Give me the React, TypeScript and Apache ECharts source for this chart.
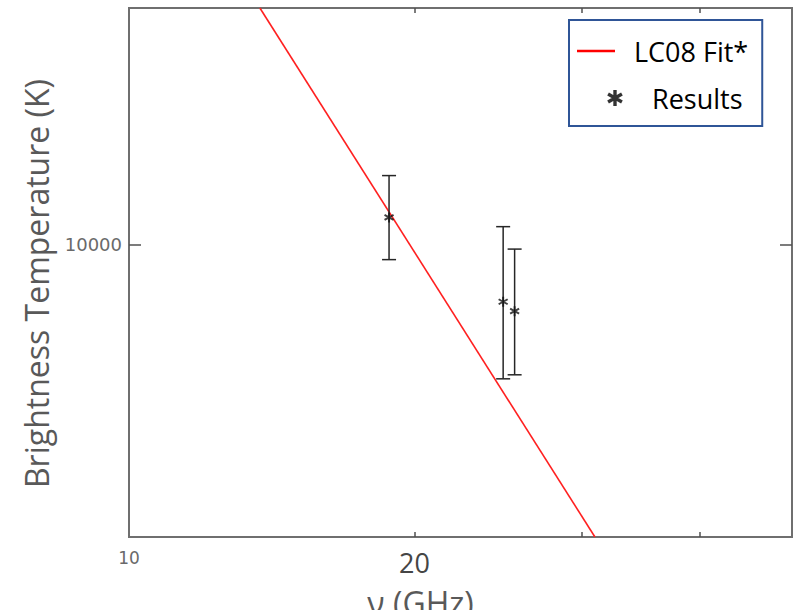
import React, { useEffect, useRef } from 'react';
import * as echarts from 'echarts';

// ---- data ----
const freqGHz = [18.8, 24.8, 25.5];
const tempK = [10840, 8470, 8240];
const tempLowK = [9580, 6760, 6840];
const tempHighK = [12250, 10550, 9880];
const fitFreqGHz = [13.74, 30.99];
const fitTempK = [20000, 4256];
const xTickValues = [20, 30, 40];
const xLabelValues = [10, 20];
const yLabelValues = [10000];
const xRange = [10, 50];
const yRange = [4256, 20000];
const seriesNames = ['LC08 Fit*', 'Results'];

function asterisk(cx: number, cy: number, r: number, w: number): string {
  let d = '';
  [90, 30, -30].forEach((deg) => {
    const a = (deg * Math.PI) / 180;
    const dx = Math.cos(a), dy = -Math.sin(a);
    const nx = -dy, ny = dx;
    const pts = [
      [cx + r * dx + w * nx, cy + r * dy + w * ny],
      [cx + r * dx - w * nx, cy + r * dy - w * ny],
      [cx - r * dx - w * nx, cy - r * dy - w * ny],
      [cx - r * dx + w * nx, cy - r * dy + w * ny],
    ];
    d += 'M' + pts.map((p) => p[0].toFixed(2) + ',' + p[1].toFixed(2)).join('L') + 'Z';
  });
  return d;
}

const POINT_SYMBOL = 'path://' + asterisk(5, 5, 5, 0.95);
const LEGEND_LINE_ICON = 'path://M0,0M47,18M0,7.8L38,7.8L38,10.2L0,10.2Z';
const LEGEND_STAR_ICON = 'path://M0,0M47,18' + asterisk(38, 9, 8, 1.7);

export default function App() {
  const ref = useRef<HTMLDivElement>(null);
  useEffect(() => {
    if (!ref.current) return;
    const chart = echarts.init(ref.current, undefined, { renderer: 'svg' });
    const errData = freqGHz.map((f, i) => [f, tempLowK[i], tempHighK[i]]);
    const ptData = freqGHz.map((f, i) => [f, tempK[i]]);
    const fitData = fitFreqGHz.map((f, i) => [f, fitTempK[i]]);
    const tickLine = { color: '#505050', width: 1.5 };
    chart.setOption({
      animation: false,
      backgroundColor: '#ffffff',
      grid: {
        left: 129, right: 1, top: 8, bottom: 73,
        containLabel: false, outerBoundsMode: 'none',
        show: true, borderColor: '#6f6f6f', borderWidth: 2, backgroundColor: 'transparent',
      },
      legend: {
        orient: 'vertical', left: 569, top: 20, align: 'left',
        padding: [16, 14, 13, 8], itemGap: 17, itemWidth: 47, itemHeight: 18,
        borderColor: '#2F5597', borderWidth: 2, backgroundColor: '#ffffff',
        selectedMode: false,
        itemStyle: { borderWidth: 0 },
        textStyle: { fontFamily: 'Open Sans', fontSize: 27, color: '#000000', lineHeight: 30 },
        data: [
          { name: seriesNames[0], icon: LEGEND_LINE_ICON, itemStyle: { color: '#ff0000', borderWidth: 0 }, textStyle: { padding: [0, 0, 0, 5] } },
          { name: seriesNames[1], icon: LEGEND_STAR_ICON, itemStyle: { color: '#000000', borderWidth: 0 }, textStyle: { padding: [0, 0, 0, 23] } },
        ],
      },
      xAxis: [
        {
          type: 'log', logBase: 10, min: xRange[0], max: xRange[1], position: 'bottom',
          axisLine: { show: false }, splitLine: { show: false },
          axisTick: { show: true, inside: true, length: 5, customValues: xTickValues, lineStyle: tickLine },
          axisLabel: {
            show: true, customValues: xLabelValues, margin: 12,
            formatter: (v: number) => (v < 15 ? '{s|' + Math.round(v) + '}' : '{b|' + Math.round(v) + '}'),
            rich: {
              s: { fontFamily: 'DejaVu Sans', fontSize: 17, color: '#6a6a6a' },
              b: { fontFamily: 'Open Sans', fontSize: 27, color: '#454545' },
            },
          },
          name: 'ν (GHz)', nameLocation: 'middle', nameGap: 49,
          nameTextStyle: { fontFamily: 'Open Sans', fontSize: 32, color: '#595959', padding: [0, 80, 0, 0] },
        },
        {
          type: 'log', logBase: 10, min: xRange[0], max: xRange[1], position: 'top',
          axisLine: { show: false }, splitLine: { show: false }, axisLabel: { show: false },
          axisTick: { show: true, inside: true, length: 5, customValues: xTickValues, lineStyle: tickLine },
        },
      ],
      yAxis: [
        {
          type: 'log', logBase: 10, min: yRange[0], max: yRange[1], position: 'left',
          axisLine: { show: false }, splitLine: { show: false },
          axisTick: { show: true, inside: true, length: 12, customValues: yLabelValues, lineStyle: tickLine },
          axisLabel: {
            show: true, customValues: yLabelValues, margin: 7,
            formatter: (v: number) => (Math.abs(v - 10000) < 1 ? '10000' : ''),
            fontFamily: 'DejaVu Sans', fontSize: 18, color: '#6a6a6a',
          },
          name: 'Brightness Temperature (K)', nameLocation: 'middle', nameGap: 77,
          nameTextStyle: { fontFamily: 'Open Sans', fontSize: 32, color: '#595959', padding: [0, 22, 0, 0] },
        },
        {
          type: 'log', logBase: 10, min: yRange[0], max: yRange[1], position: 'right',
          axisLine: { show: false }, splitLine: { show: false }, axisLabel: { show: false },
          axisTick: { show: true, inside: true, length: 12, customValues: yLabelValues, lineStyle: tickLine },
        },
      ],
      series: [
        {
          name: seriesNames[0], type: 'line', data: fitData, symbol: 'none', clip: true,
          color: '#ff0000',
          lineStyle: { color: '#ff2020', width: 1.6 }, z: 2,
        },
        {
          name: seriesNames[1] + ' bars', type: 'custom', data: errData, z: 3,
          encode: { x: 0, y: [1, 2] },
          renderItem: (params: any, api: any) => {
            const x = api.value(0);
            const lo = api.coord([x, api.value(1)]);
            const hi = api.coord([x, api.value(2)]);
            const h = 7;
            const st = { stroke: '#262626', lineWidth: 1.5 };
            return {
              type: 'group',
              children: [
                { type: 'line', shape: { x1: lo[0], y1: lo[1], x2: hi[0], y2: hi[1] }, style: st },
                { type: 'line', shape: { x1: lo[0] - h, y1: lo[1], x2: lo[0] + h, y2: lo[1] }, style: st },
                { type: 'line', shape: { x1: hi[0] - h, y1: hi[1], x2: hi[0] + h, y2: hi[1] }, style: st },
              ],
            };
          },
        },
        {
          name: seriesNames[1], type: 'scatter', data: ptData, symbol: POINT_SYMBOL, symbolSize: 10,
          color: '#000000', itemStyle: { color: '#111111' }, z: 4,
        },
      ],
    });
    return () => chart.dispose();
  }, []);
  return <div ref={ref} style={{ position: 'fixed', left: 0, top: 0, width: 793, height: 610 }} />;
}
